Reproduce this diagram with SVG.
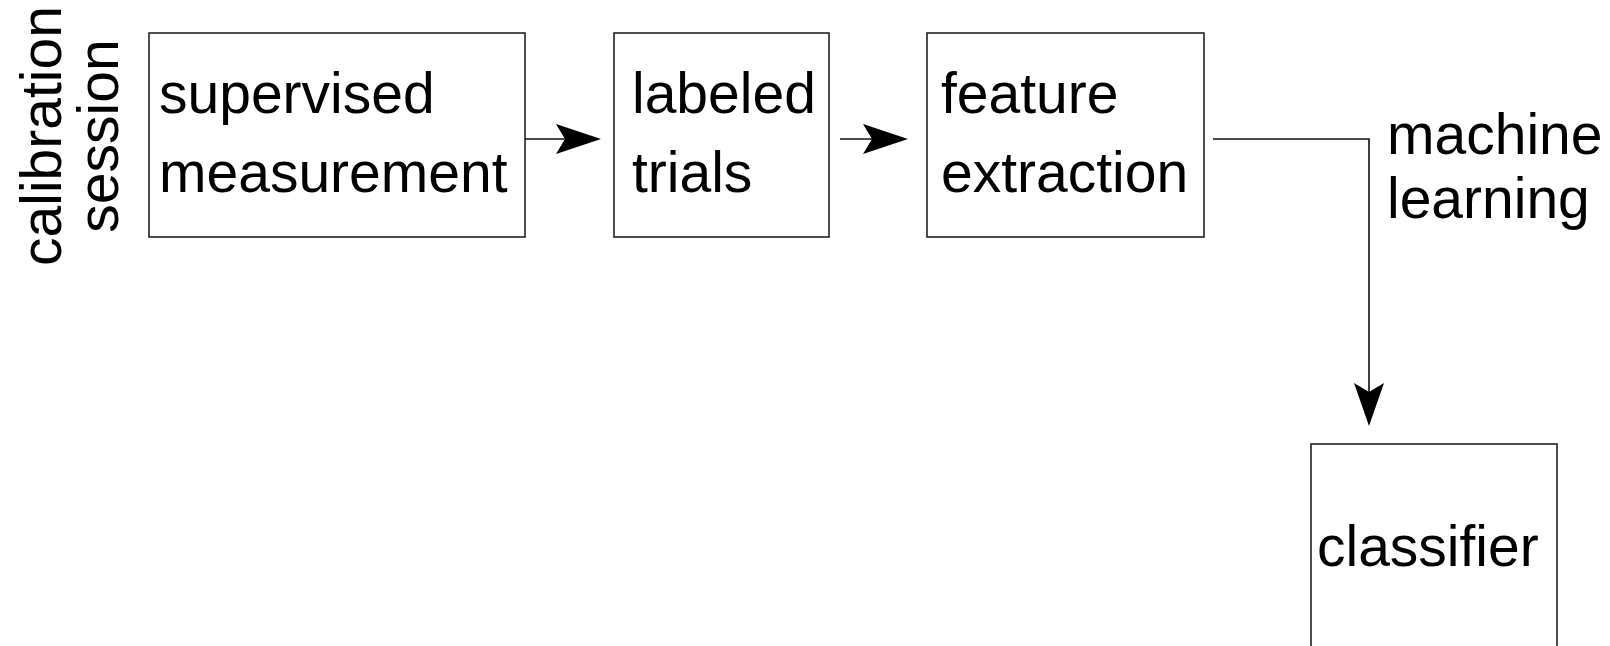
<svg xmlns="http://www.w3.org/2000/svg" width="1610" height="646" viewBox="0 0 1610 646">
<style>
.box{fill:#fff;stroke:#222;stroke-width:1.6}
.t{font-family:"Liberation Sans",Arial,sans-serif;font-size:57px;fill:#000}
.edge{fill:none;stroke:#111;stroke-width:1.6}
.head{fill:#000;stroke:none}
</style>
<rect width="1610" height="646" fill="#fff"/>
<g id="label-calibration">
<text class="t" text-anchor="middle" transform="translate(61,136) rotate(-90)">calibration</text>
<text class="t" text-anchor="middle" transform="translate(118,136) rotate(-90)">session</text>
</g>
<g id="node-supervised">
<rect class="box" x="149" y="33" width="376" height="204"/>
<text class="t" x="159" y="113">supervised</text>
<text class="t" x="159" y="192">measurement</text>
</g>
<g id="node-labeled">
<rect class="box" x="614" y="33" width="215" height="204"/>
<text class="t" x="632" y="113">labeled</text>
<text class="t" x="632" y="192">trials</text>
</g>
<g id="node-feature">
<rect class="box" x="927" y="33" width="277" height="204"/>
<text class="t" x="941" y="113">feature</text>
<text class="t" x="941" y="192">extraction</text>
</g>
<g id="node-classifier">
<rect class="box" x="1311" y="444" width="246" height="230"/>
<text class="t" x="1317" y="566">classifier</text>
</g>
<g id="connectors">
<path class="edge" d="M525 139 H570"/>
<path class="head" d="M601 139 L556 124 L565 139 L556 154 Z"/>
<path class="edge" d="M840 139 H878"/>
<path class="head" d="M908 139 L863 124 L872 139 L863 154 Z"/>
<path class="edge" d="M1213 139 H1369 V395"/>
<path class="head" d="M1369 426 L1354 383 L1369 392 L1384 383 Z"/>
<text class="t" x="1387" y="154">machine</text>
<text class="t" x="1387" y="218">learning</text>
</g>
</svg>
